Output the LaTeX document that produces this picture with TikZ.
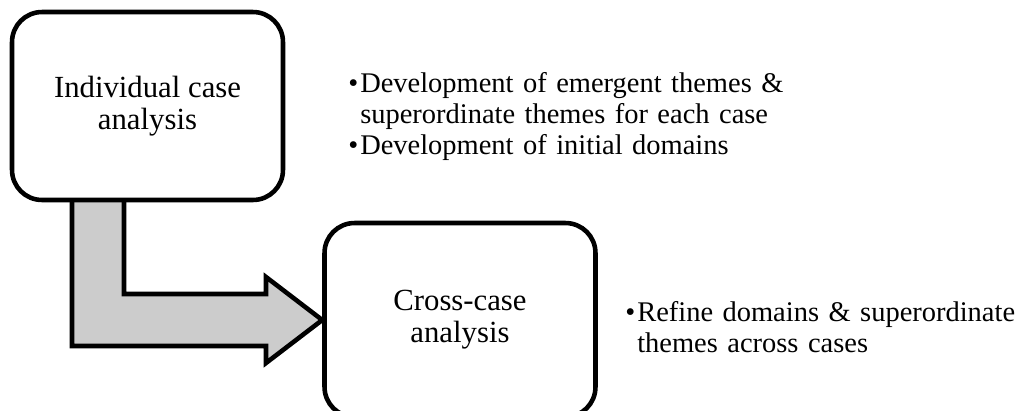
\documentclass[tikz,border=0pt]{standalone}
\usepackage{fontspec}
\setmainfont{Liberation Serif}
\usetikzlibrary{positioning, backgrounds}
\newcommand{\bpoint}[1]{\par\raggedright\hangindent=6.8pt\hangafter=1\noindent\makebox[6.8pt][l]{\textbullet}#1\par}

\begin{document}
\begin{tikzpicture}[x=0.02cm, y=-0.02cm, stage/.style={draw, line width=2.6pt, rounded corners=0.6cm, fill=white, align=center, minimum width=5.42cm, minimum height=3.76cm, font=\fontsize{17.5}{18.3}\selectfont}, notes/.style={anchor=north west, inner sep=0pt, align=left, font=\fontsize{16.2}{17.6}\selectfont}, bendarrow/.style={draw, line width=2.6pt, fill=gray!40, line join=miter}]
\useasboundingbox (0,0) rectangle (1018,410);
\node[stage] (indiv) at (147.5,106) {Individual case\\analysis};
\node[stage, minimum height=3.88cm] (cross) at (460,320) {Cross-case\\analysis};
% bent arrow between the two stages
\begin{scope}[on background layer]
\draw[bendarrow] (72,190) -- (72,346) -- (266,346) -- (266,363) -- (cross.west) -- (266,277) -- (266,294) -- (124,294) -- (124,190);
\end{scope}
\node[notes, text width=9.5cm] (indivnotes) at (348,61) {\bpoint{Development of emergent themes \& superordinate themes for each case}\bpoint{Development of initial domains}};
\node[notes, text width=8.2cm] (crossnotes) at (625,290) {\bpoint{Refine domains \& superordinate themes across cases}};
\end{tikzpicture}
\end{document}
